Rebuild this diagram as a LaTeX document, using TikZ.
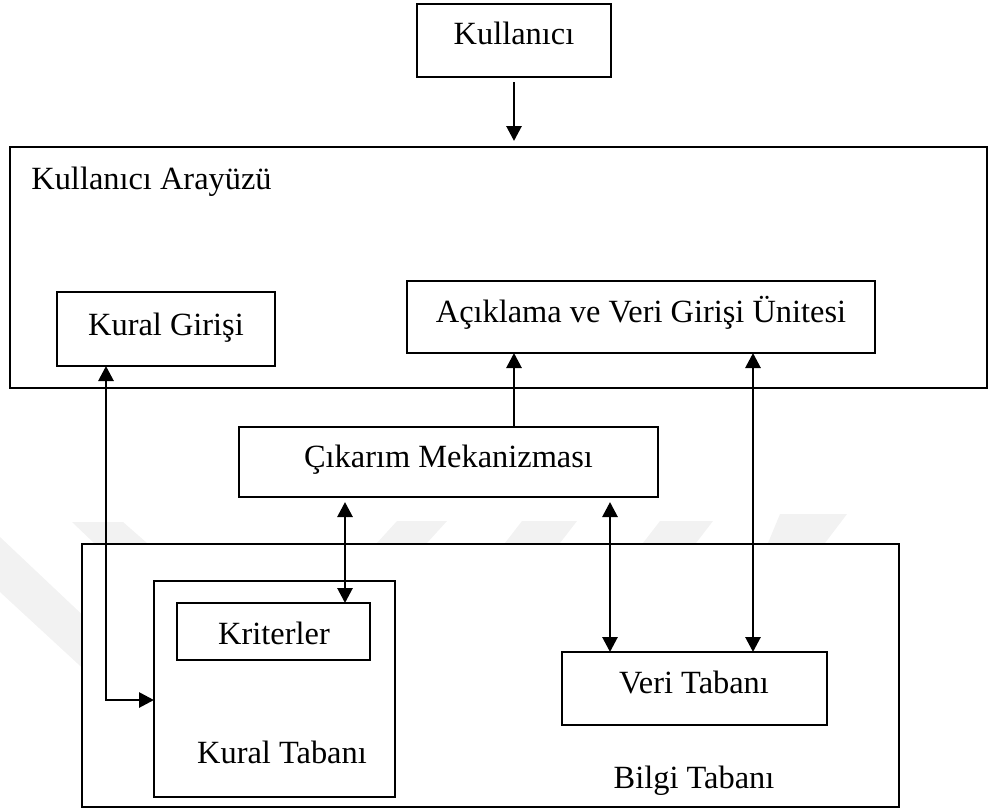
\documentclass[tikz,border=0pt]{standalone}
\usepackage{fontspec}
\setmainfont{Liberation Serif}
\usetikzlibrary{arrows.meta}
\begin{document}
\begin{tikzpicture}[x=0.5pt,y=-0.5pt,
  box/.style={draw=black,line width=1.45pt,fill=white,inner sep=0pt,outer sep=0pt},
  txt/.style={anchor=base,inner sep=0pt,font=\fontsize{16.2}{19}\selectfont},
  tip/.tip={Triangle[length=7.5pt,width=7.5pt]},
  link/.style={line width=1.4pt,-tip},
  dlink/.style={line width=1.4pt,tip-tip},
  wmark/.style={fill=black!5,draw=none}]
\useasboundingbox (0,0) rectangle (989,810);

% faint background logo stripes
\fill[wmark] (72,522) -- (123,522) -- (147,543) -- (94,543) -- cycle;
\fill[wmark] (0,537) -- (90,622) -- (90,675) -- (0,592) -- cycle;
\fill[wmark] (397,521) -- (447,521) -- (427,543) -- (377,543) -- cycle;
\fill[wmark] (522,521) -- (577,521) -- (560,543) -- (505,543) -- cycle;
\fill[wmark] (660,521) -- (713,521) -- (696,543) -- (643,543) -- cycle;
\fill[wmark] (780,514) -- (847,514) -- (825,543) -- (768,543) -- cycle;

% boxes
\node[box,minimum width=97pt,minimum height=36.5pt] (kul) at (514,40.5) {};
\node[box,minimum width=488.5pt,minimum height=120.5pt] (arayuz) at (498.5,267.5) {};
\node[box,minimum width=109pt,minimum height=37pt] (kuralgiris) at (166,329) {};
\node[box,minimum width=234pt,minimum height=36pt] (aciklama) at (641,317) {};
\node[box,minimum width=209.5pt,minimum height=35pt] (cikarim) at (448.5,462) {};
\node[box,minimum width=408.5pt,minimum height=131.5pt] (bilgi) at (490.5,675.5) {};
\node[box,minimum width=120.5pt,minimum height=108pt] (kuraltab) at (274.5,689) {};
\node[box,minimum width=96.5pt,minimum height=28.5pt] (kriter) at (273.5,631.5) {};
\node[box,minimum width=132.5pt,minimum height=36.5pt] (veri) at (694.5,688.5) {};

% texts
\node[txt] (kul-t) at (514,44) {Kullanıcı};
\node[txt,anchor=base west] (arayuz-t) at (31,189) {Kullanıcı Arayüzü};
\node[txt] (kuralgiris-t) at (166,335) {Kural Girişi};
\node[txt] (aciklama-t) at (641,322) {Açıklama ve Veri Girişi Ünitesi};
\node[txt] (cikarim-t) at (448.5,467) {Çıkarım Mekanizması};
\node[txt] (kriter-t) at (274,644) {Kriterler};
\node[txt] (kuraltab-t) at (282,763) {Kural Tabanı};
\node[txt] (veri-t) at (694,693) {Veri Tabanı};
\node[txt] (bilgi-t) at (694,788) {Bilgi Tabanı};

% connector columns
\coordinate (colA) at (514,0);
\coordinate (colB) at (753,0);
\coordinate (colC) at (345,0);
\coordinate (colD) at (610,0);
\coordinate (colE) at (106,0);

% connectors
\draw[link,shorten <=2.5pt,shorten >=3pt] (kul.south) -- (kul.south |- arayuz.north);
\draw[link] (colA |- cikarim.north) -- (colA |- aciklama.south);
\draw[dlink] (colB |- aciklama.south) -- (colB |- veri.north);
\draw[dlink,shorten <=2.5pt] (colC |- cikarim.south) -- (colC |- kriter.north);
\draw[dlink,shorten <=2.5pt] (colD |- cikarim.south) -- (colD |- veri.north);
\draw[dlink] (colE |- kuralgiris.south) |- ([yshift=-5.5pt]kuraltab.west);
\end{tikzpicture}
\end{document}
